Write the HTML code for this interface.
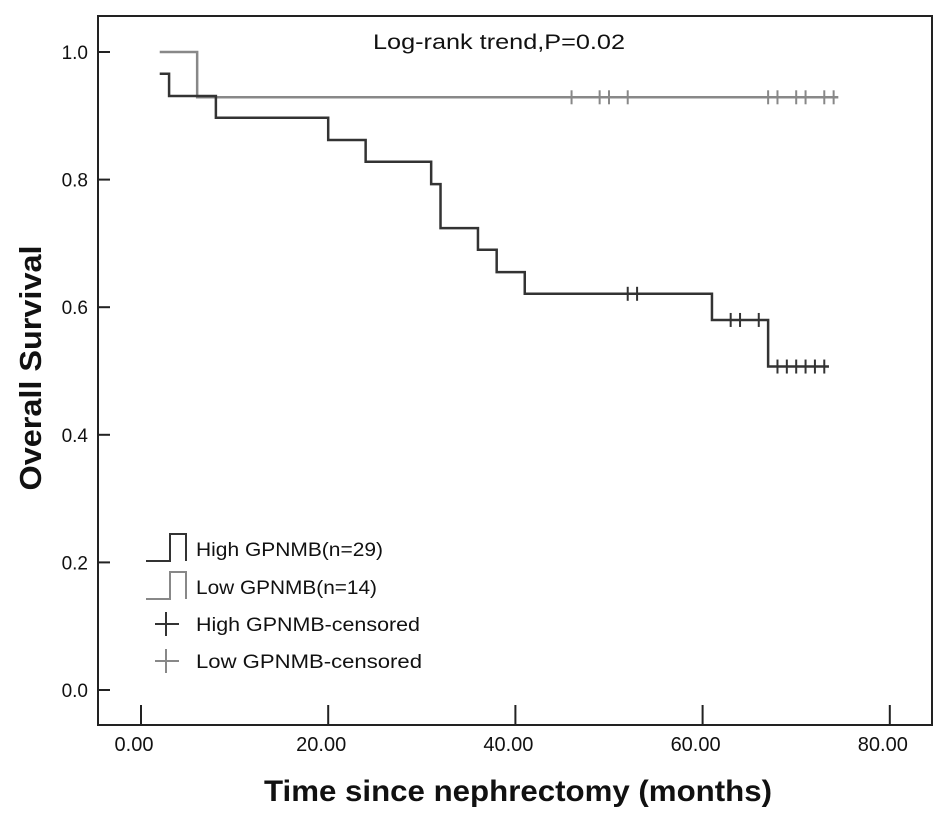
<!DOCTYPE html>
<html><head><meta charset="utf-8"><style>
body{margin:0;background:#fff;}
svg text{font-family:"Liberation Sans",sans-serif;}
</style></head><body>
<svg id="chart" width="945" height="822" viewBox="0 0 945 822">
<rect x="98" y="16" width="834" height="709" fill="none" stroke="#222" stroke-width="2"/>
<g id="axes"></g>
<g id="series"></g>
<text x="373" y="49" font-size="21" textLength="252" lengthAdjust="spacingAndGlyphs" fill="#111">Log-rank trend,P=0.02</text>
<text transform="translate(41,368) rotate(-90)" font-size="31" font-weight="bold" text-anchor="middle" textLength="245" lengthAdjust="spacingAndGlyphs" fill="#111">Overall Survival</text>
<text x="264" y="801" font-size="30" font-weight="bold" textLength="508" lengthAdjust="spacingAndGlyphs" fill="#111">Time since nephrectomy (months)</text>
<g>
<path d="M146,561 H170 V534 H186 V561" fill="none" stroke="#333" stroke-width="2"/>
<text x="196" y="556" font-size="19" textLength="187" lengthAdjust="spacingAndGlyphs" fill="#111">High GPNMB(n=29)</text>
<path d="M146,599 H170 V572 H186 V599" fill="none" stroke="#888" stroke-width="2"/>
<text x="196" y="594" font-size="19" textLength="181" lengthAdjust="spacingAndGlyphs" fill="#111">Low GPNMB(n=14)</text>
<path d="M155,624 H179 M166,612 V636" stroke="#333" stroke-width="2"/>
<text x="196" y="631" font-size="19" textLength="224" lengthAdjust="spacingAndGlyphs" fill="#111">High GPNMB-censored</text>
<path d="M155,661 H179 M166,649 V673" stroke="#888" stroke-width="2"/>
<text x="196" y="668" font-size="19" textLength="226" lengthAdjust="spacingAndGlyphs" fill="#111">Low GPNMB-censored</text>
</g>
</svg>
<script>
const xTicks=[0,20,40,60,80];
const xTickLabels=["0.00","20.00","40.00","60.00","80.00"];
const yTicks=[0,0.2,0.4,0.6,0.8,1.0];
const yTickLabels=["0.0","0.2","0.4","0.6","0.8","1.0"];
const highTimes=[2,3,8,20,24,31,32,36,38,41,61,67,73.5];
const highSurv=[0.966,0.931,0.897,0.862,0.828,0.793,0.724,0.690,0.655,0.621,0.580,0.507];
const highCensor=[52,53,63,64,66,68,69,70,71,72,73];
const lowTimes=[2,6,74.5];
const lowSurv=[1.0,0.929];
const lowCensor=[46,49,50,52,67,68,70,71,73,74];
const NS="http://www.w3.org/2000/svg";
function X(t){return 141+t*9.36;}
function Y(s){return 690-s*638;}
const axes=document.getElementById('axes'),ser=document.getElementById('series');
function mk(tag,attrs,parent){const e=document.createElementNS(NS,tag);for(const k in attrs)e.setAttribute(k,attrs[k]);parent.appendChild(e);return e;}
xTicks.forEach((v,i)=>{
 const l=mk('line',{x1:X(v),x2:X(v),y1:705,y2:725,stroke:'#222','stroke-width':2},axes);
 
 
 const t=mk('text',{x:X(v)-7,y:751,'font-size':20,'text-anchor':'middle',fill:'#111'},axes);
 t.textContent=xTickLabels[i];
 
 
});
yTicks.forEach((v,i)=>{
 const l=mk('line',{x1:98,x2:110,y1:Y(v),y2:Y(v),stroke:'#222','stroke-width':2},axes);
 
 
 const t=mk('text',{x:88,y:Y(v)+7,'font-size':19,'text-anchor':'end',fill:'#111'},axes);
 t.textContent=yTickLabels[i];
 
 
});
function survAt(times,surv,t){let s=surv[0];for(let i=0;i<surv.length;i++){if(t>=times[i])s=surv[i];}return s;}
function drawCurve(times,surv,censor,color,name){
 let d='M'+X(times[0])+','+Y(surv[0]);
 for(let i=1;i<times.length;i++){
  d+=' H'+X(times[i]);
  if(i<surv.length)d+=' V'+Y(surv[i]);
 }
 const p=mk('path',{d:d,fill:'none',stroke:color,'stroke-width':2.5},ser);
 
 
 censor.forEach(c=>{
  const y=Y(survAt(times,surv,c));
  const m=mk('line',{x1:X(c),x2:X(c),y1:y-7,y2:y+7,stroke:color,'stroke-width':2},ser);
  
  
 });
}
drawCurve(lowTimes,lowSurv,lowCensor,'#888','low-gpnmb');
drawCurve(highTimes,highSurv,highCensor,'#333','high-gpnmb');
</script>
</body></html>
